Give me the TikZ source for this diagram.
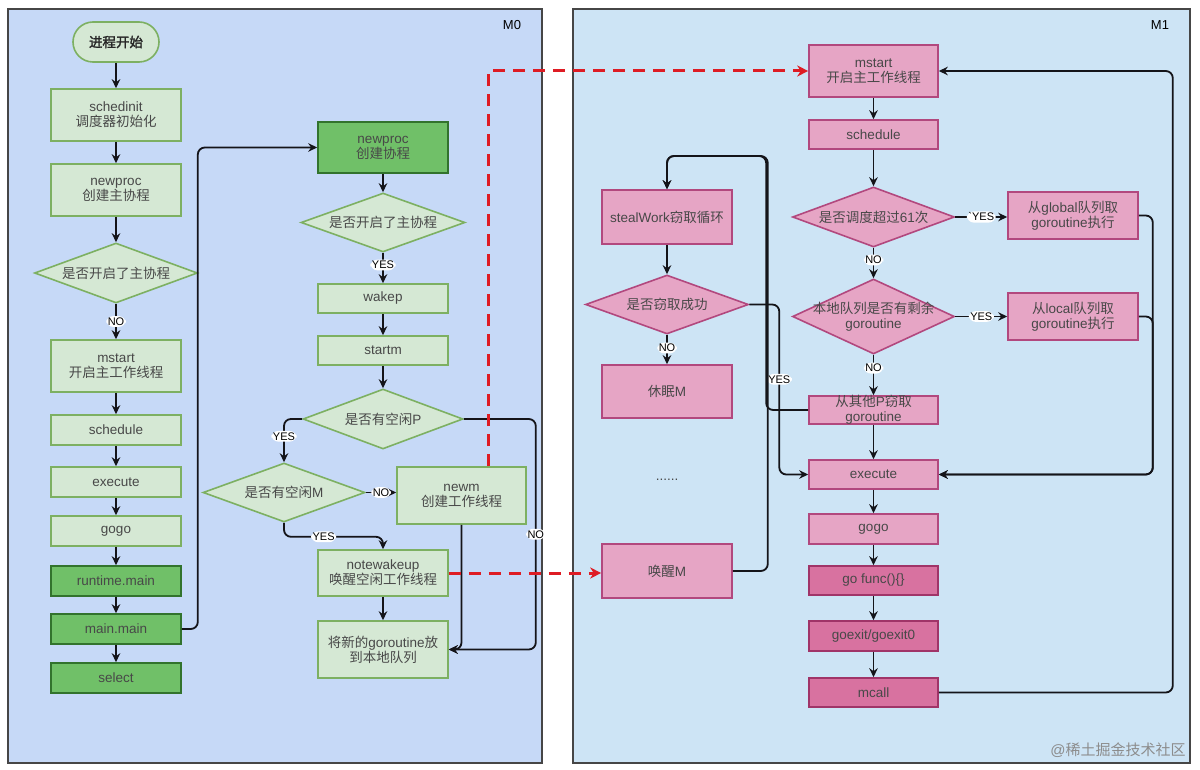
\documentclass[tikz,border=0pt]{standalone}
\usepackage{fontspec}
\setmainfont{Liberation Sans}
\newfontfamily\cjkf[AutoFakeBold=2]{Noto Sans CJK SC}
\newcommand\zhs[1]{{\cjkf #1}}
\newcommand\bxfont{\fontsize{13.5}{15}\selectfont}
\usetikzlibrary{shapes.geometric,arrows.meta}
\definecolor{panelL}{RGB}{198,217,247}
\definecolor{panelR}{RGB}{205,228,245}
\definecolor{panelLine}{RGB}{70,70,70}
\definecolor{gfill}{RGB}{213,232,212}
\definecolor{gline}{RGB}{125,176,98}
\definecolor{dgfill}{RGB}{112,192,104}
\definecolor{dgline}{RGB}{50,115,45}
\definecolor{pfill}{RGB}{230,165,197}
\definecolor{pline}{RGB}{178,72,126}
\definecolor{dpfill}{RGB}{216,114,160}
\definecolor{dpline}{RGB}{160,52,104}
\definecolor{txt}{RGB}{72,72,72}
\definecolor{conn}{RGB}{20,20,25}
\definecolor{redline}{RGB}{222,28,36}
\begin{document}
\begin{tikzpicture}[x=1pt,y=-1pt,
  panel/.style={draw=panelLine,line width=1.2pt},
  box/.style={rectangle,line width=1.6pt,text=txt,font=\bxfont,align=center,inner sep=0pt,minimum width=130pt},
  gbx/.style={box,draw=gline,fill=gfill},
  dgbx/.style={box,draw=dgline,fill=dgfill},
  pbx/.style={box,draw=pline,fill=pfill},
  dpbx/.style={box,draw=dpline,fill=dpfill},
  dia/.style={diamond,line width=1.6pt,text=txt,font=\bxfont,align=center,inner sep=-30pt},
  gdia/.style={dia,draw=gline,fill=gfill},
  pdia/.style={dia,draw=pline,fill=pfill},
  arr/.style={draw=conn,line width=1.8pt,rounded corners=7pt,-{Stealth[length=9pt,width=8.5pt,inset=3pt]}},
  lbl/.style={fill=white,inner sep=1.5pt,font=\fontsize{11}{12}\selectfont,text=black},
  redarr/.style={draw=redline,line width=3pt,dash pattern=on 12pt off 8pt,-{Stealth[length=11pt,width=11pt,inset=3.5pt]}},
  mlbl/.style={font=\fontsize{13}{15}\selectfont,text=black}
]
\useasboundingbox (0,0) rectangle (1200,770);
\fill[white] (0,0) rectangle (1200,770);
\draw[panel,fill=panelL] (8,9) rectangle (542,763);
\draw[panel,fill=panelR] (573,9) rectangle (1190,763);
\node[mlbl] (m0) at (512,25) {M0};
\node[mlbl] (m1) at (1160,25) {M1};
\node[font=\fontsize{15}{17}\selectfont,text=black!45] (wm) at (1118,750) {@\zhs{稀土掘金技术社区}};

% left column
\node[gbx,rounded corners=20pt,minimum width=86pt,minimum height=40pt,text=black!85,font=\bxfont\bfseries] (start) at (116,42) {\zhs{进程开始}};
\node[gbx,minimum height=52pt] (schedinit) at (116,115) {schedinit\\\zhs{调度器初始化}};
\node[gbx,minimum height=52pt] (newproc0) at (116,190) {newproc\\\zhs{创建主协程}};
\node[gdia,minimum width=163pt,minimum height=60pt] (dia1) at (116,273) {\zhs{是否开启了主协程}};
\node[gbx,minimum height=52pt] (mstart0) at (116,366) {mstart\\\zhs{开启主工作线程}};
\node[gbx,minimum height=30pt] (sched0) at (116,430) {schedule};
\node[gbx,minimum height=30pt] (exec0) at (116,482) {execute};
\node[gbx,minimum height=30pt] (gogo0) at (116,531) {gogo};
\node[dgbx,minimum height=30pt] (rtmain) at (116,581) {runtime.main};
\node[dgbx,minimum height=30pt] (mainmain) at (116,629) {main.main};
\node[dgbx,minimum height=30pt] (select) at (116,678) {select};

% middle column
\node[dgbx,minimum height=51pt] (newproc1) at (383,147.5) {newproc\\\zhs{创建协程}};
\node[gdia,minimum width=164pt,minimum height=59pt] (dia2) at (383,222.5) {\zhs{是否开启了主协程}};
\node[gbx,minimum height=29pt] (wakep) at (383,298.5) {wakep};
\node[gbx,minimum height=29pt] (startm) at (383,350.5) {startm};
\node[gdia,minimum width=160pt,minimum height=60pt] (diaP) at (383,419) {\zhs{是否有空闲}P};
\node[gdia,minimum width=162pt,minimum height=59pt] (diaM) at (284,492.5) {\zhs{是否有空闲}M};
\node[gbx,minimum width=129pt,minimum height=57pt] (newm) at (461.5,495.5) {newm\\\zhs{创建工作线程}};
\node[gbx,minimum height=46pt] (notewake) at (383,573) {notewakeup\\\zhs{唤醒空闲工作线程}};
\node[gbx,minimum height=57pt] (putlocal) at (383,649.5) {\zhs{将新的}goroutine\zhs{放}\\\zhs{到本地队列}};

% right panel main column
\node[pbx,minimum width=129pt,minimum height=52pt] (mstart1) at (873.5,71) {mstart\\\zhs{开启主工作线程}};
\node[pbx,minimum width=129pt,minimum height=29pt] (sched1) at (873.5,134.5) {schedule};
\node[pdia,minimum width=162pt,minimum height=60pt] (dia61) at (873.5,217) {\zhs{是否调度超过}61\zhs{次}};
\node[pbx,minimum height=47pt] (global) at (1073,215.5) {\zhs{从}global\zhs{队列取}\\goroutine\zhs{执行}};
\node[pdia,minimum width=162pt,minimum height=75pt] (diaLocal) at (873.5,316.5) {\zhs{本地队列是否有剩余}\\goroutine};
\node[pbx,minimum height=47pt] (local) at (1073,316.5) {\zhs{从}local\zhs{队列取}\\goroutine\zhs{执行}};
\node[pbx,minimum width=129pt,minimum height=28pt,inner ysep=-4pt] (steal) at (873.5,410) {\zhs{从其他}P\zhs{窃取}\\goroutine};
\node[pbx,minimum width=129pt,minimum height=29pt] (exec1) at (873.5,474.5) {execute};
\node[pbx,minimum width=129pt,minimum height=30pt] (gogo1) at (873.5,529) {gogo};
\node[dpbx,minimum width=129pt,minimum height=29pt] (gofunc) at (873.5,580.5) {go func()\{\}};
\node[dpbx,minimum width=129pt,minimum height=30pt] (goexit) at (873.5,636) {goexit/goexit0};
\node[dpbx,minimum width=129pt,minimum height=29pt] (mcall) at (873.5,692.5) {mcall};

% right panel left column
\node[pbx,minimum height=54pt] (stealwork) at (667,217) {stealWork\zhs{窃取循环}};
\node[pdia,minimum width=163pt,minimum height=59pt] (diaSteal) at (667,304.5) {\zhs{是否窃取成功}};
\node[pbx,minimum height=53pt] (sleepM) at (667,391.5) {\zhs{休眠}M};
\node[text=txt,font=\bxfont] (dots) at (667,480) {......};
\node[pbx,minimum height=54pt] (wakeM) at (667,571) {\zhs{唤醒}M};

% connectors left
\draw[arr] (start) -- (schedinit);
\draw[arr] (schedinit) -- (newproc0);
\draw[arr] (newproc0) -- (dia1);
\draw[arr] (dia1) -- node[lbl]{NO} (mstart0);
\draw[arr] (mstart0) -- (sched0);
\draw[arr] (sched0) -- (exec0);
\draw[arr] (exec0) -- (gogo0);
\draw[arr] (gogo0) -- (rtmain);
\draw[arr] (rtmain) -- (mainmain);
\draw[arr] (mainmain) -- (select);
\draw[arr] (mainmain.east) -- ++(16,0) |- (newproc1.west);

% connectors middle
\draw[arr] (newproc1) -- (dia2);
\draw[arr] (dia2) -- node[lbl,pos=0.4]{YES} (wakep);
\draw[arr] (wakep) -- (startm);
\draw[arr] (startm) -- (diaP);
\draw[arr] (diaP.west) -| node[lbl,pos=0.7]{YES} (diaM.north);
\draw[arr] (diaM.east) -- node[lbl]{NO} (diaM.east -| newm.west);
\draw[arr] (diaM.south) -- ++(0,14) -| node[lbl,pos=0.2]{YES} (notewake.north);
\draw[arr] (notewake) -- (putlocal);
\draw[arr] (newm.south) |- (putlocal.east);
\draw[arr] (diaP.east) -- ++(72,0) |- node[lbl,pos=0.25]{NO} (putlocal.east);

% red dashed
\draw[redarr] ([xshift=26.5pt]newm.north) |- (mstart1.west);
\draw[redarr] (notewake.east) -- (notewake.east -| wakeM.west);

% connectors right
\draw[arr] (mstart1) -- (sched1);
\draw[arr] (sched1) -- (dia61);
\draw[arr] (dia61.east) -- node[lbl]{\textasciigrave YES} (dia61.east -| global.west);
\draw[arr] (dia61) -- node[lbl,pos=0.4]{NO} (diaLocal);
\draw[arr] (diaLocal.east) -- node[lbl]{YES} (diaLocal.east -| local.west);
\draw[arr] (diaLocal) -- node[lbl,pos=0.33]{NO} (steal);
\draw[arr] (steal) -- (exec1);
\draw[arr] (exec1) -- (gogo1);
\draw[arr] (gogo1) -- (gofunc);
\draw[arr] (gofunc) -- (goexit);
\draw[arr] (goexit) -- (mcall);
\draw[arr] (global.east) -- ++(14,0) |- (exec1.east);
\draw[arr] (local.east) -- ++(14,0) |- (exec1.east);
\draw[arr] (mcall.east) -- ++(234,0) |- (mstart1.east);

\draw[arr] (stealwork) -- (diaSteal);
\draw[arr] (diaSteal) -- node[lbl,pos=0.45]{NO} (sleepM);
\draw[arr] (diaSteal.east) -- ++(30,0) |- node[lbl,pos=0.22]{YES} (exec1.west);
\draw[arr] (steal.west) -- ++(-42,0) -- ++(0,-254) -| (stealwork.north);
\draw[arr] (wakeM.east) -- ++(35,0) -- ++(0,-415) -| (stealwork.north);
\end{tikzpicture}
\end{document}
